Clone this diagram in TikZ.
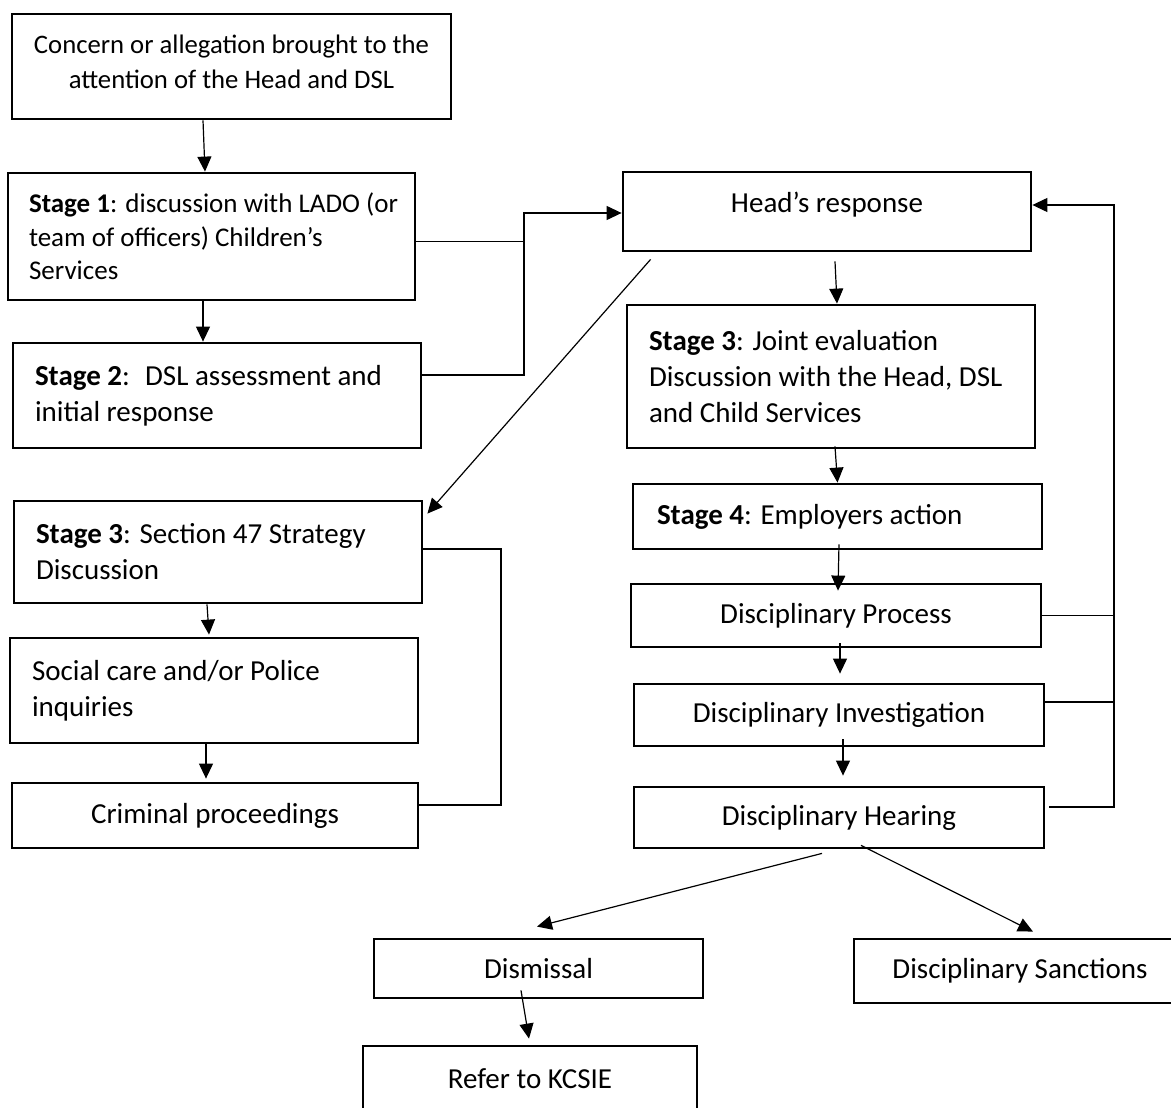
\documentclass[tikz,border=0pt]{standalone}
\usepackage{fontspec}
\setmainfont{Carlito}
\usepackage{tikz}
\usetikzlibrary{arrows.meta}
\tikzset{
    RA/.style ={rectangle, draw, line width=2.8pt, align=flush left, inner ysep=0pt},
    RB/.style ={rectangle, draw, line width=2.8pt, align=center, inner sep=0pt},
    AR/.style ={-{Triangle[length=15pt,width=14pt]}, line width=1.2pt},
    LN/.style ={line width=1.2pt}
}

\begin{document}
\begin{tikzpicture}[x=1pt,y=-1pt,font=\fontsize{29}{36}\selectfont]
        \useasboundingbox (0,0) rectangle (1171,1108);
        \clip (0,0) rectangle (1171,1108);
        % left column
        \node[RB, minimum width=439pt, minimum height=105pt, text depth=10pt, font=\fontsize{26.7}{35}\selectfont](1) at (231.5,66.5) {Concern or allegation brought to the\\attention of the Head and DSL};
        \node[RA, minimum width=407pt, minimum height=127pt, text width=365pt, inner xsep=21pt, font=\fontsize{27}{33.5}\selectfont](2) at (211.5,236.5) {\mbox{\textbf{Stage 1}: discussion with LADO (or}\\team of officers) Children’s\\Services};
        \node[RA, minimum width=408pt, minimum height=105pt, text width=364pt, inner xsep=22pt](3) at (217,395.5) {\textbf{Stage 2}:~ DSL assessment and\\initial response};
        \node[RA, minimum width=408pt, minimum height=102pt, text width=364pt, inner xsep=22pt](4) at (218,552) {\textbf{Stage 3}: Section 47 Strategy\\Discussion};
        \node[RA, minimum width=408pt, minimum height=105pt, text width=364pt, inner xsep=22pt](5) at (214,690.5) {Social care and/or Police\\inquiries};
        \node[RB, minimum width=406pt, minimum height=65pt](6) at (215,815.5) {Criminal proceedings};
        % right column
        \node[RB, minimum width=408pt, minimum height=79pt, text height=20pt, text depth=19pt](7) at (827,211.5) {Head’s response};
        \node[RA, minimum width=408pt, minimum height=143pt, text width=364pt, inner xsep=22pt](8) at (831,376.5) {\textbf{Stage 3}: Joint evaluation\\Discussion with the Head, DSL\\and Child Services};
        \node[RA, minimum width=409pt, minimum height=65pt, text width=361pt, inner xsep=24pt](9) at (837.5,516.5) {\textbf{Stage 4}: Employers action};
        \node[RB, minimum width=410pt, minimum height=63pt](10) at (836,615.5) {Disciplinary Process};
        \node[RB, minimum width=410pt, minimum height=62pt](11) at (839,715) {Disciplinary Investigation};
        \node[RB, minimum width=410pt, minimum height=61pt](12) at (839,817.5) {Disciplinary Hearing};
        % outcomes
        \node[RB, minimum width=329pt, minimum height=59pt](13) at (538.5,968.5) {Dismissal};
        \node[RB, minimum width=332pt, minimum height=64pt](14) at (1020,971) {Disciplinary Sanctions};
        \node[RB, minimum width=334pt, minimum height=66pt](15) at (530,1079) {Refer to KCSIE};
        \coordinate (a) at (524,213);
        \coordinate (b) at (501,0);
        \coordinate (c) at (1114,0);
        \coordinate (d) at ([yshift=6.5pt]7.east);
        \draw[AR] ([xshift=-28.5pt]1.south) -- ([xshift=-6.5pt]2.north);
        \draw[AR] ([xshift=-8.5pt]2.south) -- ([xshift=-14pt]3.north);
        \draw[LN] ([yshift=-5pt]2.east) -- ([yshift=-5pt]2.east -| a);
        \draw[AR] ([yshift=20.5pt]3.east) -| (a) -- (a -| 7.west);
        \draw[AR] ([xshift=29pt,yshift=-7pt]7.south west) -- ([xshift=4pt,yshift=-14pt]4.north east);
        \draw[AR] ([xshift=-11pt]4.south) -- ([xshift=-5pt,yshift=2pt]5.north);
        \draw[AR] ([xshift=-8pt]5.south) -- ([xshift=-9pt,yshift=3pt]6.north);
        \draw[LN] ([yshift=3pt]4.east) -- ([yshift=3pt]4.east -| b) |- ([yshift=10.5pt]6.east);
        \draw[AR] ([xshift=8pt,yshift=-9pt]7.south) -- ([xshift=6pt]8.north);
        \draw[AR] ([xshift=4pt,yshift=3pt]8.south) -- (9.north);
        \draw[AR] ([xshift=1.5pt,yshift=6pt]9.south) -- ([xshift=2pt,yshift=-8pt]10.north);
        \draw[AR] ([xshift=4pt,yshift=5pt]10.south) -- ([xshift=1pt,yshift=9pt]11.north);
        \draw[AR] ([xshift=4pt,yshift=8pt]11.south) -- ([xshift=4pt,yshift=10pt]12.north);
        % back to the Head
        \draw[AR] ([xshift=4pt,yshift=10.5pt]12.east) -| (c |- d) -- (d);
        \draw[LN] (10.east) -- (10.east -| c);
        \draw[LN] ([yshift=13pt]11.east) -- ([yshift=13pt]11.east -| c);
        \draw[AR] ([xshift=-17pt,yshift=-4pt]12.south) -- ([xshift=-1.5pt,yshift=11pt]13.north);
        \draw[AR] ([xshift=22pt,yshift=4pt]12.south) -- ([xshift=13pt,yshift=6pt]14.north);
        \draw[AR] ([xshift=-17.5pt,yshift=9pt]13.south) -- ([xshift=-1pt,yshift=6pt]15.north);
\end{tikzpicture}
\end{document}
